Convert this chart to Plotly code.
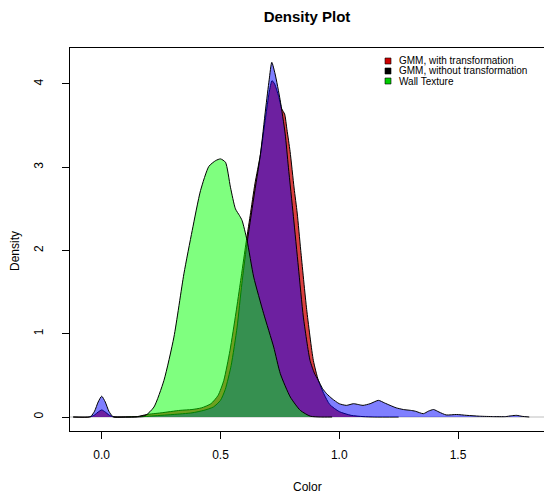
import plotly.graph_objects as go

# ---- data ----
wall_x = [0.05, 0.10, 0.15, 0.185, 0.22, 0.262, 0.304, 0.346, 0.381, 0.416, 0.451, 0.48, 0.50,
          0.521, 0.542, 0.563, 0.58, 0.591, 0.612, 0.64, 0.682, 0.724, 0.752, 0.794, 0.836,
          0.878, 0.92, 0.97]
wall_y = [0.0, 0.0, 0.005, 0.02, 0.12, 0.44, 0.96, 1.72, 2.24, 2.72, 3.01, 3.08, 3.10,
          3.06, 2.76, 2.50, 2.42, 2.36, 2.12, 1.68, 1.24, 0.84, 0.52, 0.24, 0.08,
          0.01, 0.0, 0.0]

gmm_t_x = [-0.12, -0.05, -0.03, -0.015, 0.0, 0.015, 0.03, 0.05, 0.10, 0.15, 0.19, 0.25, 0.33,
           0.38, 0.42, 0.46, 0.49, 0.514, 0.54, 0.565, 0.585, 0.605, 0.625, 0.645, 0.668,
           0.69, 0.705, 0.717, 0.728, 0.745, 0.758, 0.77, 0.78, 0.793, 0.81, 0.823, 0.838,
           0.863, 0.891, 0.912, 0.935, 0.96, 1.0, 1.05, 1.10, 1.15, 1.25]
gmm_t_y = [0.0, 0.0, 0.025, 0.06, 0.085, 0.06, 0.025, 0.0, 0.0, 0.005, 0.03, 0.05, 0.08,
           0.09, 0.11, 0.16, 0.26, 0.44, 0.80, 1.25, 1.64, 2.04, 2.42, 2.80, 3.15,
           3.60, 3.90, 4.04, 4.00, 3.85, 3.70, 3.64, 3.45, 3.19, 2.75, 2.45, 2.00,
           1.29, 0.68, 0.44, 0.28, 0.15, 0.065, 0.02, 0.005, 0.0, 0.0]

gmm_nt_x = [-0.12, -0.06, -0.045, -0.03, -0.015, 0.0, 0.015, 0.03, 0.045, 0.06, 0.10, 0.15,
            0.20, 0.30, 0.38, 0.43, 0.47, 0.50, 0.52, 0.545, 0.57, 0.59, 0.61, 0.64, 0.668,
            0.69, 0.705, 0.716, 0.73, 0.751, 0.772, 0.786, 0.807, 0.828, 0.849, 0.877, 0.895,
            0.912, 0.93, 0.947, 0.97, 1.0, 1.03, 1.06, 1.08, 1.10, 1.13, 1.165, 1.19, 1.214,
            1.24, 1.27, 1.30, 1.32, 1.354, 1.375, 1.397, 1.42, 1.45, 1.494, 1.537, 1.59,
            1.65, 1.70, 1.725, 1.747, 1.77, 1.80]
gmm_nt_y = [0.0, 0.0, 0.01, 0.07, 0.18, 0.25, 0.18, 0.07, 0.01, 0.0, 0.0, 0.0,
            0.01, 0.03, 0.05, 0.08, 0.12, 0.20, 0.33, 0.62, 1.08, 1.60, 2.05, 2.63, 3.15,
            3.70, 4.05, 4.26, 4.12, 3.81, 3.41, 3.00, 2.41, 1.80, 1.20, 0.68, 0.53,
            0.44, 0.34, 0.28, 0.22, 0.16, 0.14, 0.16, 0.15, 0.14, 0.16, 0.20, 0.17, 0.14,
            0.11, 0.09, 0.08, 0.07, 0.04, 0.07, 0.09, 0.06, 0.025, 0.03, 0.02, 0.01,
            0.005, 0.005, 0.015, 0.02, 0.008, 0.0]

x_ticks = [0.0, 0.5, 1.0, 1.5]
x_tick_labels = ["0.0", "0.5", "1.0", "1.5"]
y_ticks = [0, 1, 2, 3, 4]
y_tick_labels = ["0", "1", "2", "3", "4"]

legend_labels = ["GMM, with transformation", "GMM, without transformation", "Wall Texture"]
legend_colors = ["#cd0000", "#000000", "#00cd00"]

FONT = "Liberation Sans, Arial, Helvetica, sans-serif"

fig = go.Figure()

def poly(x, y, fillcolor, name):
    fig.add_trace(go.Scatter(
        x=x, y=y, mode="lines", fill="toself", fillcolor=fillcolor,
        line=dict(color="black", width=1, shape="spline", smoothing=0.6),
        name=name, showlegend=False, hoverinfo="skip"))

poly(gmm_t_x, gmm_t_y, "rgba(205,0,0,0.75)", legend_labels[0])
poly(gmm_nt_x, gmm_nt_y, "rgba(0,0,255,0.5)", legend_labels[1])
poly(wall_x, wall_y, "rgba(0,255,0,0.5)", legend_labels[2])

# zero line
fig.add_shape(type="line", xref="paper", x0=0, x1=1, yref="y", y0=0, y1=0,
              line=dict(color="#bebebe", width=1), layer="below")

# legend drawn by hand (pixel layout converted to paper units)
L, B, H, W = 70, 431, 383, 474
rows_px = [61, 71, 81]
for lab, col, ry in zip(legend_labels, legend_colors, rows_px):
    yc = (B - ry) / H
    fig.add_shape(type="rect", xref="paper", yref="paper",
                  x0=(385 - L) / W, x1=(391 - L) / W,
                  y0=yc - 3 / H, y1=yc + 3 / H,
                  fillcolor=col, line=dict(color="black", width=0.6))
    fig.add_annotation(xref="paper", yref="paper", x=(397 - L) / W, y=yc,
                       text=lab, showarrow=False, xanchor="left", yanchor="middle",
                       font=dict(family=FONT, size=10, color="black"))

# axis titles
fig.add_annotation(xref="paper", yref="paper", x=(307 - L) / W, y=-(487 - B) / H,
                   text="Color", showarrow=False, xanchor="center", yanchor="middle",
                   font=dict(family=FONT, size=12, color="black"))
fig.add_annotation(xref="paper", yref="paper", x=-(L - 15) / W, y=(B - 251) / H,
                   text="Density", showarrow=False, textangle=-90,
                   xanchor="center", yanchor="middle",
                   font=dict(family=FONT, size=12, color="black"))

fig.update_layout(
    width=544, height=497,
    margin=dict(l=70, r=0, t=48, b=66),
    paper_bgcolor="white", plot_bgcolor="white",
    title=dict(text="<b>Density Plot</b>", x=0.5, xref="paper",
               y=1 - 17 / 497, yref="container", yanchor="middle",
               font=dict(family=FONT, size=15, color="black")),
    font=dict(family=FONT, size=12, color="black"),
    showlegend=False,
)
fig.update_xaxes(range=[-0.1335, 1.862], tickvals=x_ticks, ticktext=x_tick_labels,
                 showgrid=False, zeroline=False, showline=True, linecolor="black",
                 linewidth=1, mirror=True, ticks="outside", ticklen=7, tickcolor="black",
                 ticklabelstandoff=6, tickfont=dict(family=FONT, size=12))
fig.update_yaxes(range=[-0.168, 4.432], tickvals=y_ticks, ticktext=y_tick_labels,
                 showgrid=False, zeroline=False, showline=True, linecolor="black",
                 linewidth=1, ticks="outside", ticklen=7, tickcolor="black",
                 tickangle=-90, ticklabelstandoff=14, tickfont=dict(family=FONT, size=12))

fig.write_html("out.html", config={"displayModeBar": False, "staticPlot": True},
               post_script="document.body.style.margin='0';document.body.style.overflow='hidden';")
